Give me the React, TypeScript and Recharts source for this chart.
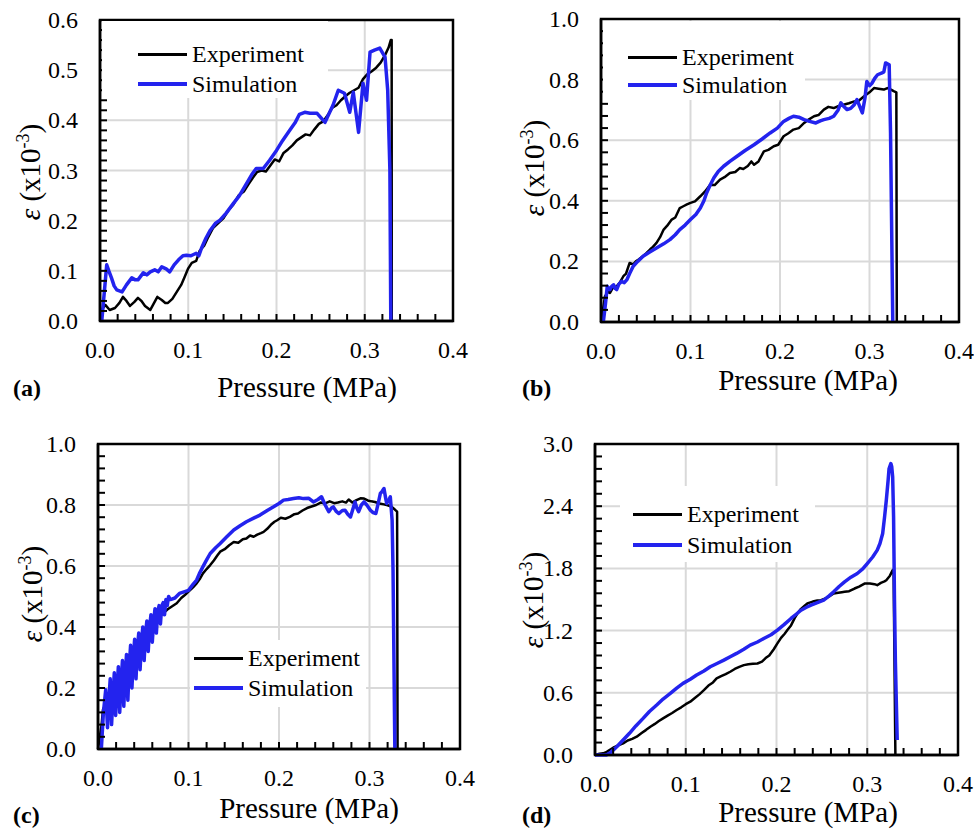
import React from 'react';
import { LineChart, Line, XAxis, YAxis, CartesianGrid, ReferenceArea } from 'recharts';

const SERIF = "'Liberation Serif', 'Times New Roman', serif";
const BLUE = '#2323ee';

// axis ticks (minor ticks, majors get labels + gridlines)
const xTicks = [0, 0.02, 0.04, 0.06, 0.08, 0.1, 0.12, 0.14, 0.16, 0.18, 0.2, 0.22, 0.24, 0.26, 0.28, 0.3, 0.32, 0.34, 0.36, 0.38, 0.4];
const xMajor = [0, 0.1, 0.2, 0.3, 0.4];

const yTicksA = [0, 0.02, 0.04, 0.06, 0.08, 0.1, 0.12, 0.14, 0.16, 0.18, 0.2, 0.22, 0.24, 0.26, 0.28, 0.3, 0.32, 0.34, 0.36, 0.38, 0.4, 0.42, 0.44, 0.46, 0.48, 0.5, 0.52, 0.54, 0.56, 0.58, 0.6];
const yMajorA = [0, 0.1, 0.2, 0.3, 0.4, 0.5, 0.6];
const yTicksB = [0, 0.04, 0.08, 0.12, 0.16, 0.2, 0.24, 0.28, 0.32, 0.36, 0.4, 0.44, 0.48, 0.52, 0.56, 0.6, 0.64, 0.68, 0.72, 0.76, 0.8, 0.84, 0.88, 0.92, 0.96, 1.0];
const yMajorB = [0, 0.2, 0.4, 0.6, 0.8, 1.0];
const yTicksD = [0, 0.12, 0.24, 0.36, 0.48, 0.6, 0.72, 0.84, 0.96, 1.08, 1.2, 1.32, 1.44, 1.56, 1.68, 1.8, 1.92, 2.04, 2.16, 2.28, 2.4, 2.52, 2.64, 2.76, 2.88, 3.0];
const yMajorD = [0, 0.6, 1.2, 1.8, 2.4, 3.0];

// [pressure MPa, strain x1e-3]
const expA: [number, number][] = [
  [0, 0], [0.003, 0.025], [0.006, 0.032], [0.011, 0.022], [0.017, 0.026], [0.022, 0.036], [0.026, 0.048],
  [0.03, 0.04], [0.034, 0.03], [0.039, 0.038], [0.043, 0.046], [0.047, 0.04], [0.051, 0.03], [0.057, 0.022],
  [0.061, 0.035], [0.065, 0.048], [0.07, 0.042], [0.074, 0.036], [0.077, 0.036], [0.082, 0.044], [0.087, 0.058],
  [0.092, 0.072], [0.096, 0.088], [0.1, 0.105], [0.104, 0.116], [0.109, 0.12], [0.113, 0.14], [0.118, 0.15],
  [0.122, 0.165], [0.128, 0.185], [0.134, 0.195], [0.14, 0.205], [0.146, 0.222], [0.151, 0.232], [0.157, 0.25],
  [0.163, 0.258], [0.168, 0.272], [0.173, 0.285], [0.178, 0.297], [0.183, 0.3], [0.188, 0.298], [0.193, 0.31],
  [0.198, 0.322], [0.203, 0.318], [0.208, 0.335], [0.213, 0.342], [0.218, 0.35], [0.223, 0.36], [0.228, 0.366],
  [0.233, 0.372], [0.238, 0.37], [0.243, 0.382], [0.248, 0.393], [0.253, 0.398], [0.258, 0.41], [0.263, 0.425],
  [0.268, 0.43], [0.273, 0.44], [0.278, 0.448], [0.283, 0.455], [0.288, 0.46], [0.293, 0.465], [0.298, 0.482],
  [0.303, 0.492], [0.308, 0.498], [0.313, 0.505], [0.318, 0.515], [0.323, 0.53], [0.327, 0.545], [0.3295, 0.56],
  [0.3305, 0.56], [0.3306, 0],
];
const simA: [number, number][] = [
  [0.002, 0], [0.0076, 0.112], [0.01, 0.1], [0.013, 0.086], [0.016, 0.07], [0.019, 0.062], [0.025, 0.058],
  [0.03, 0.072], [0.036, 0.086], [0.04, 0.082], [0.043, 0.082], [0.049, 0.096], [0.053, 0.092], [0.057, 0.098],
  [0.062, 0.102], [0.066, 0.098], [0.07, 0.108], [0.075, 0.104], [0.079, 0.098], [0.084, 0.112], [0.089, 0.122],
  [0.094, 0.13], [0.098, 0.131], [0.103, 0.13], [0.109, 0.135], [0.112, 0.13], [0.115, 0.145], [0.12, 0.165],
  [0.125, 0.181], [0.131, 0.195], [0.136, 0.201], [0.143, 0.215], [0.151, 0.234], [0.158, 0.25], [0.166, 0.274],
  [0.172, 0.292], [0.177, 0.304], [0.185, 0.304], [0.192, 0.32], [0.2, 0.34], [0.207, 0.36], [0.215, 0.38],
  [0.221, 0.395], [0.226, 0.412], [0.232, 0.416], [0.238, 0.414], [0.246, 0.414], [0.255, 0.396], [0.26, 0.415],
  [0.264, 0.43], [0.27, 0.46], [0.277, 0.454], [0.283, 0.416], [0.287, 0.456], [0.293, 0.376], [0.298, 0.474],
  [0.302, 0.44], [0.306, 0.536], [0.311, 0.54], [0.317, 0.544], [0.323, 0.526], [0.326, 0.46], [0.3285, 0.3],
  [0.3295, 0],
];

const expB: [number, number][] = [
  [0, 0], [0.0045, 0.085], [0.008, 0.1], [0.01, 0.096], [0.013, 0.112], [0.0175, 0.118], [0.021, 0.13],
  [0.025, 0.151], [0.028, 0.16], [0.032, 0.195], [0.036, 0.19], [0.039, 0.2], [0.042, 0.206], [0.046, 0.215],
  [0.051, 0.228], [0.055, 0.24], [0.058, 0.248], [0.062, 0.261], [0.066, 0.28], [0.07, 0.305], [0.074, 0.318],
  [0.079, 0.338], [0.083, 0.345], [0.088, 0.376], [0.092, 0.382], [0.096, 0.388], [0.1, 0.393], [0.105, 0.398],
  [0.111, 0.415], [0.116, 0.43], [0.122, 0.453], [0.127, 0.452], [0.133, 0.47], [0.138, 0.478], [0.144, 0.492],
  [0.15, 0.495], [0.155, 0.508], [0.159, 0.505], [0.164, 0.515], [0.168, 0.53], [0.171, 0.519], [0.176, 0.53],
  [0.182, 0.563], [0.187, 0.568], [0.193, 0.58], [0.198, 0.585], [0.204, 0.613], [0.209, 0.622], [0.215, 0.635],
  [0.221, 0.64], [0.227, 0.657], [0.232, 0.668], [0.238, 0.679], [0.243, 0.683], [0.249, 0.701], [0.254, 0.71],
  [0.26, 0.706], [0.265, 0.712], [0.271, 0.717], [0.277, 0.722], [0.283, 0.728], [0.288, 0.73], [0.294, 0.745],
  [0.3, 0.758], [0.305, 0.772], [0.31, 0.77], [0.316, 0.767], [0.32, 0.772], [0.324, 0.767], [0.327, 0.762],
  [0.33, 0.758], [0.3305, 0],
];
const simB: [number, number][] = [
  [0.0026, 0], [0.005, 0.06], [0.007, 0.118], [0.01, 0.107], [0.012, 0.118], [0.014, 0.123], [0.016, 0.11],
  [0.0175, 0.107], [0.02, 0.125], [0.023, 0.134], [0.026, 0.13], [0.029, 0.14], [0.032, 0.16], [0.036, 0.184],
  [0.041, 0.2], [0.047, 0.217], [0.054, 0.23], [0.062, 0.244], [0.07, 0.258], [0.077, 0.272], [0.083, 0.288],
  [0.088, 0.305], [0.094, 0.32], [0.1, 0.338], [0.106, 0.355], [0.111, 0.376], [0.115, 0.4], [0.118, 0.426],
  [0.122, 0.452], [0.126, 0.475], [0.131, 0.497], [0.137, 0.514], [0.144, 0.53], [0.152, 0.547], [0.161, 0.566],
  [0.171, 0.585], [0.18, 0.604], [0.189, 0.624], [0.197, 0.64], [0.204, 0.662], [0.21, 0.672], [0.215, 0.679],
  [0.221, 0.676], [0.227, 0.668], [0.233, 0.662], [0.24, 0.657], [0.245, 0.664], [0.249, 0.668], [0.255, 0.672],
  [0.26, 0.679], [0.265, 0.7], [0.268, 0.723], [0.271, 0.712], [0.275, 0.701], [0.279, 0.705], [0.283, 0.717],
  [0.286, 0.734], [0.289, 0.712], [0.292, 0.69], [0.295, 0.74], [0.297, 0.794], [0.3, 0.78], [0.303, 0.789],
  [0.306, 0.805], [0.309, 0.816], [0.314, 0.822], [0.316, 0.825], [0.318, 0.855], [0.32, 0.852], [0.322, 0.849],
  [0.3235, 0.624], [0.326, 0],
];

const expC: [number, number][] = [
  [0, 0], [0.004, 0.08], [0.0055, 0.129], [0.009, 0.15], [0.013, 0.183], [0.018, 0.21], [0.023, 0.24],
  [0.028, 0.27], [0.033, 0.3], [0.038, 0.325], [0.042, 0.347], [0.047, 0.37], [0.052, 0.385], [0.057, 0.401],
  [0.062, 0.418], [0.067, 0.432], [0.072, 0.445], [0.077, 0.458], [0.082, 0.468], [0.087, 0.478], [0.092, 0.495],
  [0.096, 0.505], [0.1, 0.516], [0.105, 0.53], [0.109, 0.543], [0.113, 0.56], [0.116, 0.576], [0.12, 0.59],
  [0.124, 0.603], [0.128, 0.618], [0.132, 0.635], [0.135, 0.647], [0.14, 0.655], [0.145, 0.668], [0.15, 0.679],
  [0.155, 0.676], [0.16, 0.688], [0.164, 0.69], [0.168, 0.7], [0.172, 0.696], [0.176, 0.703], [0.18, 0.708],
  [0.183, 0.712], [0.187, 0.722], [0.191, 0.735], [0.195, 0.745], [0.198, 0.75], [0.202, 0.758], [0.207, 0.755],
  [0.212, 0.761], [0.217, 0.77], [0.221, 0.772], [0.226, 0.782], [0.231, 0.79], [0.236, 0.795], [0.241, 0.8],
  [0.246, 0.808], [0.251, 0.805], [0.256, 0.812], [0.261, 0.806], [0.265, 0.808], [0.27, 0.812], [0.274, 0.808],
  [0.277, 0.818], [0.281, 0.808], [0.285, 0.815], [0.29, 0.822], [0.294, 0.821], [0.298, 0.815], [0.302, 0.812],
  [0.306, 0.81], [0.311, 0.805], [0.316, 0.802], [0.32, 0.799], [0.324, 0.795], [0.328, 0.785], [0.3305, 0.778],
  [0.331, 0],
];
const simC: [number, number][] = [
  [0.0037, 0], [0.006, 0.12], [0.0085, 0.194], [0.0105, 0.07], [0.012, 0.16], [0.0135, 0.23], [0.015, 0.08],
  [0.0165, 0.17], [0.018, 0.25], [0.0195, 0.11], [0.021, 0.2], [0.0225, 0.27], [0.024, 0.12], [0.0255, 0.22],
  [0.027, 0.29], [0.0285, 0.14], [0.03, 0.24], [0.0315, 0.31], [0.033, 0.16], [0.0345, 0.27], [0.036, 0.34],
  [0.0375, 0.2], [0.039, 0.3], [0.0405, 0.36], [0.042, 0.23], [0.0435, 0.33], [0.045, 0.38], [0.0465, 0.26],
  [0.048, 0.35], [0.0495, 0.4], [0.051, 0.29], [0.0525, 0.38], [0.054, 0.42], [0.0555, 0.32], [0.057, 0.4],
  [0.0585, 0.44], [0.06, 0.35], [0.0615, 0.42], [0.063, 0.46], [0.0645, 0.38], [0.066, 0.45], [0.0675, 0.47],
  [0.069, 0.41], [0.0705, 0.47], [0.072, 0.48], [0.0735, 0.44], [0.075, 0.49], [0.0765, 0.47], [0.078, 0.5],
  [0.08, 0.49], [0.085, 0.495], [0.09, 0.51], [0.095, 0.515], [0.1, 0.52], [0.105, 0.54], [0.109, 0.554],
  [0.112, 0.575], [0.116, 0.598], [0.12, 0.62], [0.124, 0.641], [0.13, 0.66], [0.135, 0.674], [0.142, 0.695],
  [0.15, 0.718], [0.157, 0.732], [0.164, 0.745], [0.172, 0.757], [0.179, 0.767], [0.187, 0.782], [0.194, 0.794],
  [0.2, 0.805], [0.205, 0.816], [0.21, 0.818], [0.216, 0.821], [0.222, 0.824], [0.227, 0.821], [0.233, 0.822],
  [0.238, 0.81], [0.243, 0.818], [0.247, 0.827], [0.251, 0.8], [0.255, 0.778], [0.258, 0.79], [0.26, 0.794],
  [0.263, 0.78], [0.266, 0.772], [0.27, 0.782], [0.273, 0.783], [0.276, 0.77], [0.279, 0.761], [0.282, 0.79],
  [0.284, 0.81], [0.286, 0.79], [0.288, 0.778], [0.291, 0.8], [0.294, 0.81], [0.297, 0.8], [0.301, 0.783],
  [0.304, 0.775], [0.307, 0.772], [0.31, 0.81], [0.312, 0.838], [0.314, 0.845], [0.316, 0.854], [0.318, 0.82],
  [0.319, 0.805], [0.321, 0.815], [0.323, 0.827], [0.325, 0.75], [0.326, 0.587], [0.328, 0],
];

const expD: [number, number][] = [
  [0, 0], [0.005, 0.012], [0.009, 0.016], [0.013, 0.03], [0.016, 0.048], [0.02, 0.07], [0.025, 0.09],
  [0.031, 0.112], [0.036, 0.14], [0.041, 0.155], [0.046, 0.177], [0.051, 0.21], [0.056, 0.24], [0.061, 0.273],
  [0.066, 0.3], [0.07, 0.325], [0.075, 0.353], [0.08, 0.38], [0.085, 0.405], [0.09, 0.434], [0.095, 0.46],
  [0.1, 0.49], [0.105, 0.514], [0.11, 0.55], [0.115, 0.585], [0.12, 0.626], [0.125, 0.67], [0.13, 0.7],
  [0.134, 0.739], [0.139, 0.76], [0.144, 0.78], [0.149, 0.803], [0.154, 0.83], [0.159, 0.85], [0.164, 0.867],
  [0.169, 0.875], [0.174, 0.88], [0.179, 0.883], [0.184, 0.9], [0.188, 0.935], [0.192, 0.96], [0.197, 1.02],
  [0.201, 1.076], [0.205, 1.13], [0.209, 1.17], [0.212, 1.205], [0.216, 1.25], [0.22, 1.32], [0.223, 1.365],
  [0.227, 1.41], [0.231, 1.44], [0.234, 1.462], [0.24, 1.48], [0.245, 1.49], [0.249, 1.494], [0.254, 1.51],
  [0.258, 1.53], [0.263, 1.558], [0.268, 1.565], [0.272, 1.57], [0.275, 1.574], [0.28, 1.58], [0.286, 1.606],
  [0.291, 1.625], [0.297, 1.654], [0.303, 1.655], [0.308, 1.648], [0.311, 1.638], [0.315, 1.66], [0.319, 1.675],
  [0.321, 1.686], [0.325, 1.73], [0.328, 1.783], [0.329, 1.79], [0.331, 0],
];
const simD: [number, number][] = [
  [0, 0], [0.0125, 0], [0.018, 0.03], [0.024, 0.08], [0.031, 0.145], [0.038, 0.209], [0.045, 0.28],
  [0.053, 0.353], [0.06, 0.42], [0.068, 0.482], [0.075, 0.54], [0.083, 0.594], [0.09, 0.645], [0.097, 0.691],
  [0.105, 0.73], [0.112, 0.771], [0.12, 0.81], [0.127, 0.851], [0.135, 0.885], [0.142, 0.915], [0.149, 0.948],
  [0.156, 0.98], [0.164, 1.02], [0.171, 1.06], [0.179, 1.09], [0.186, 1.124], [0.194, 1.16], [0.201, 1.205],
  [0.208, 1.255], [0.216, 1.317], [0.222, 1.36], [0.227, 1.397], [0.233, 1.425], [0.238, 1.446], [0.245, 1.47],
  [0.252, 1.494], [0.258, 1.535], [0.263, 1.574], [0.269, 1.625], [0.275, 1.67], [0.282, 1.715], [0.289, 1.751],
  [0.295, 1.795], [0.3, 1.847], [0.306, 1.91], [0.311, 1.976], [0.314, 2.04], [0.317, 2.136], [0.319, 2.29],
  [0.321, 2.457], [0.323, 2.65], [0.324, 2.76], [0.326, 2.811], [0.327, 2.78], [0.328, 2.683], [0.329, 2.3],
  [0.33, 1.5], [0.331, 0.9], [0.333, 0.145],
];

const toPoints = (s: [number, number][]) => s.map(([x, y]) => ({ x, y }));
const isMajor = (v: number, majors: number[]) => majors.some(m => Math.abs(m - v) < 1e-9);

// ticks point inward (negative tickSize); labels only on the major values
const XTick = (props: any) => {
  const { x, y, payload } = props;
  const v = payload.value;
  if (!isMajor(v, xMajor)) return <g />;
  return (
    <text x={x} y={y + 29} textAnchor="middle" dominantBaseline="central" fontFamily={SERIF} fontSize={24} fill="#000">
      {v.toFixed(1)}
    </text>
  );
};

const makeYTick = (majors: number[]) => (props: any) => {
  const { x, y, payload } = props;
  const v = payload.value;
  if (!isMajor(v, majors)) return <g />;
  return (
    <text x={x - 22} y={y} textAnchor="end" dominantBaseline="central" fontFamily={SERIF} fontSize={24} fill="#000">
      {v.toFixed(1)}
    </text>
  );
};

type PanelProps = {
  left: number; top: number; width: number; height: number;
  margin: { top: number; right: number; bottom: number; left: number };
  yMax: number; yTicks: number[]; yMajor: number[];
  exp: [number, number][]; sim: [number, number][];
};

const tickLineStyle = { stroke: '#000', strokeWidth: 2 };
const axisLineStyle = { stroke: '#000', strokeWidth: 2.5 };

function Panel(p: PanelProps) {
  return (
    <div style={{ position: 'absolute', left: p.left, top: p.top }}>
      <LineChart width={p.width} height={p.height} margin={p.margin}>
        <CartesianGrid stroke="#d9d9d9" strokeWidth={2} horizontalValues={p.yMajor} verticalValues={xMajor} />
        <XAxis type="number" dataKey="x" domain={[0, 0.4]} ticks={xTicks} interval={0} height={40}
          tick={XTick} tickLine={tickLineStyle} axisLine={axisLineStyle} tickSize={-7} tickMargin={7} />
        <YAxis type="number" domain={[0, p.yMax]} ticks={p.yTicks} interval={0} width={60}
          tick={makeYTick(p.yMajor)} tickLine={tickLineStyle} axisLine={axisLineStyle} tickSize={-7} tickMargin={7} />
        <Line data={toPoints(p.exp)} dataKey="y" type="linear" stroke="#000" strokeWidth={2.5} dot={false}
          isAnimationActive={false} strokeLinejoin="round" />
        <Line data={toPoints(p.sim)} dataKey="y" type="linear" stroke={BLUE} strokeWidth={3.5} dot={false}
          isAnimationActive={false} strokeLinejoin="round" />
        <ReferenceArea x1={0} x2={0.4} y1={0} y2={p.yMax} fill="none" stroke="#000" strokeWidth={2.5} />
      </LineChart>
    </div>
  );
}

function LegendBox({ box, lineX, rows }: { box: [number, number, number, number]; lineX: number; rows: [number, number] }) {
  const [bx, by, bw, bh] = box;
  const items = [
    { label: 'Experiment', color: '#000', w: 3 },
    { label: 'Simulation', color: BLUE, w: 4 },
  ];
  return (
    <div style={{ position: 'absolute', left: bx, top: by, width: bw, height: bh, background: '#fff' }}>
      {items.map((it, i) => (
        <div key={it.label} style={{ position: 'absolute', left: lineX - bx, top: rows[i] - by - 15, height: 30,
          display: 'flex', alignItems: 'center', fontFamily: SERIF, fontSize: 24, whiteSpace: 'nowrap' }}>
          <div style={{ width: 49, height: it.w, background: it.color, marginRight: 5 }} />
          <span style={{ lineHeight: '30px' }}>{it.label}</span>
        </div>
      ))}
    </div>
  );
}

const abs = (l: number, t: number): React.CSSProperties => ({ position: 'absolute', left: l, top: t });

function XTitle({ cx, cy }: { cx: number; cy: number }) {
  return (
    <div style={{ ...abs(cx, cy), transform: 'translate(-50%, -50%)', fontFamily: SERIF, fontSize: 29, whiteSpace: 'nowrap', lineHeight: 1 }}>
      Pressure (MPa)
    </div>
  );
}

function YTitle({ cx, cy }: { cx: number; cy: number }) {
  return (
    <div style={{ ...abs(cx, cy), transform: 'translate(-50%, -50%) rotate(-90deg)', fontFamily: SERIF, fontSize: 29, whiteSpace: 'nowrap', lineHeight: 1 }}>
      <i>ε</i> (x10<sup style={{ fontSize: 18, lineHeight: 0 }}>-3</sup>)
    </div>
  );
}

function Tag({ x, cy, text }: { x: number; cy: number; text: string }) {
  return (
    <div style={{ ...abs(x, cy), transform: 'translateY(-50%)', fontFamily: SERIF, fontSize: 24, fontWeight: 'bold', lineHeight: 1 }}>
      {text}
    </div>
  );
}

export default function App() {
  return (
    <div style={{ position: 'absolute', left: 0, top: 0, width: 974, height: 829, background: '#fff', overflow: 'hidden', fontFamily: SERIF }}>
      <Panel left={0} top={0} width={480} height={410} margin={{ top: 20, right: 27, bottom: 49, left: 40 }}
        yMax={0.6} yTicks={yTicksA} yMajor={yMajorA} exp={expA} sim={simA} />
      <Panel left={487} top={0} width={487} height={410} margin={{ top: 19, right: 15, bottom: 48, left: 54 }}
        yMax={1.0} yTicks={yTicksB} yMajor={yMajorB} exp={expB} sim={simB} />
      <Panel left={0} top={410} width={480} height={419} margin={{ top: 34, right: 20, bottom: 40, left: 38 }}
        yMax={1.0} yTicks={yTicksB} yMajor={yMajorB} exp={expC} sim={simC} />
      <Panel left={487} top={410} width={487} height={419} margin={{ top: 34, right: 16, bottom: 34, left: 48 }}
        yMax={3.0} yTicks={yTicksD} yMajor={yMajorD} exp={expD} sim={simD} />

      <LegendBox box={[102, 21, 226, 77]} lineX={138} rows={[54, 84]} />
      <LegendBox box={[603, 21, 202, 79]} lineX={628} rows={[57, 85]} />
      <LegendBox box={[190, 640, 176, 67]} lineX={194} rows={[658, 688]} />
      <LegendBox box={[620, 486, 195, 76]} lineX={633} rows={[514, 545]} />

      <XTitle cx={307} cy={387} />
      <XTitle cx={808} cy={380} />
      <XTitle cx={309} cy={808} />
      <XTitle cx={808} cy={812} />

      <YTitle cx={30} cy={172} />
      <YTitle cx={534} cy={168} />
      <YTitle cx={32} cy={594} />
      <YTitle cx={533} cy={600} />

      <Tag x={13} cy={388} text="(a)" />
      <Tag x={522} cy={388} text="(b)" />
      <Tag x={13} cy={815} text="(c)" />
      <Tag x={522} cy={815} text="(d)" />
    </div>
  );
}
